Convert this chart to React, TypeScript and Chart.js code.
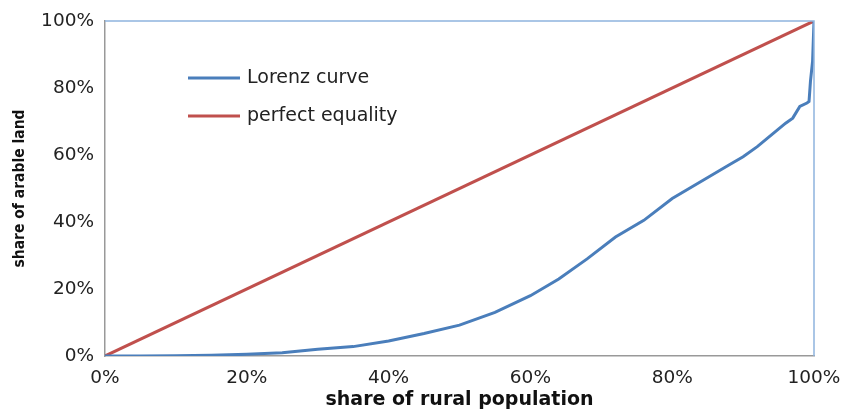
import React, { useEffect, useRef } from "react";
import { Chart, registerables } from "chart.js";

Chart.register(...registerables);

// share of rural population (%)
const populationShare = [
  0, 5, 10, 15, 20, 25, 27.5, 30, 35, 40, 45, 50, 55, 60, 64, 68, 72, 76, 80, 84, 88, 90, 92, 94, 96, 97, 98, 99,
  99.3, 99.5, 99.8, 100,
];
// share of arable land (%) – Lorenz curve
const landShare = [
  0, 0, 0.1, 0.2, 0.5, 1.0, 1.5, 2, 2.8, 4.5, 6.7, 9.2, 13, 18, 23, 29, 35.5, 40.5, 47, 52, 57, 59.5, 62.5, 66,
  69.5, 71, 74.5, 75.5, 76, 82, 88, 100,
];
const equalityX = [0, 100];
const equalityY = [0, 100];
const tickValues = [0, 20, 40, 60, 80, 100];

const seriesNames = ["Lorenz curve", "perfect equality"];
const BLUE = "#4a7ebb";
const RED = "#c0504d";
const FONT = "'DejaVu Sans', sans-serif";

export default function App() {
  const ref = useRef<HTMLCanvasElement>(null);

  useEffect(() => {
    document.body.style.margin = "0";
    const canvas = ref.current!;
    const frame = {
      id: "frame",
      afterDatasetsDraw(chart: any) {
        const { ctx, chartArea: a } = chart;
        ctx.save();
        ctx.strokeStyle = "#8fb4de";
        ctx.lineWidth = 1.5;
        ctx.beginPath();
        ctx.moveTo(a.left, a.top);
        ctx.lineTo(a.right, a.top);
        ctx.lineTo(a.right, a.bottom);
        ctx.stroke();
        ctx.restore();
      },
      afterDraw(chart: any) {
        const { ctx, chartArea: a } = chart;
        ctx.save();
        const items = [
          { name: seriesNames[0], color: BLUE, y: a.top + 57 },
          { name: seriesNames[1], color: RED, y: a.top + 95 },
        ];
        ctx.font = `19px ${FONT}`;
        ctx.textBaseline = "middle";
        ctx.fillStyle = "#222";
        for (const it of items) {
          ctx.strokeStyle = it.color;
          ctx.lineWidth = 3;
          ctx.beginPath();
          ctx.moveTo(a.left + 83, it.y);
          ctx.lineTo(a.left + 135, it.y);
          ctx.stroke();
          ctx.fillText(it.name, a.left + 142, it.y);
        }
        ctx.restore();
      },
    };

    const chart = new Chart(canvas, {
      type: "scatter",
      data: {
        datasets: [
          {
            label: seriesNames[0],
            data: populationShare.map((x, i) => ({ x, y: landShare[i] })),
            showLine: true,
            borderColor: BLUE,
            borderWidth: 3,
            pointRadius: 0,
            order: 1,
          },
          {
            label: seriesNames[1],
            data: equalityX.map((x, i) => ({ x, y: equalityY[i] })),
            showLine: true,
            borderColor: RED,
            borderWidth: 3,
            pointRadius: 0,
            order: 2,
          },
        ],
      },
      options: {
        animation: false,
        responsive: false,
        layout: { padding: { top: 21, right: 31, left: 0, bottom: 0 } },
        plugins: { legend: { display: false }, tooltip: { enabled: false } },
        scales: {
          x: {
            type: "linear",
            min: 0,
            max: 100,
            afterBuildTicks: (s: any) => {
              s.ticks = tickValues.map((v) => ({ value: v }));
            },
            afterFit: (s: any) => {
              s.height = 55;
              s.paddingRight = 0;
              s.paddingLeft = 0;
            },
            grid: { display: false, drawTicks: false },
            border: { display: true, color: "#999", width: 1.5 },
            ticks: {
              padding: 11,
              color: "#222",
              font: { family: FONT, size: 18.5 },
              maxRotation: 0,
              callback: (v: any) => `${v}%`,
            },
            title: {
              display: true,
              text: "share of rural population",
              color: "#111",
              font: { family: FONT, size: 19, weight: "bold" },
              padding: { top: 0, bottom: 0 },
            },
          },
          y: {
            type: "linear",
            min: 0,
            max: 100,
            afterBuildTicks: (s: any) => {
              s.ticks = tickValues.map((v) => ({ value: v }));
            },
            afterFit: (s: any) => {
              s.width = 105;
              s.paddingTop = 0;
              s.paddingBottom = 0;
            },
            grid: { display: false, drawTicks: false },
            border: { display: true, color: "#999", width: 1.5 },
            ticks: {
              padding: 11,
              color: "#222",
              font: { family: FONT, size: 18.5 },
              callback: (v: any) => `${v}%`,
            },
            title: {
              display: true,
              text: "share of arable land",
              color: "#111",
              font: { family: "'Liberation Sans Narrow', 'DejaVu Sans Condensed', sans-serif", size: 15.5, weight: "bold" },
              padding: { top: 11, bottom: 0 },
            },
          },
        },
      },
      plugins: [frame],
    });
    return () => chart.destroy();
  }, []);

  return (
    <div style={{ width: 845, height: 411, background: "#fff" }}>
      <canvas ref={ref} width={845} height={411} />
    </div>
  );
}
